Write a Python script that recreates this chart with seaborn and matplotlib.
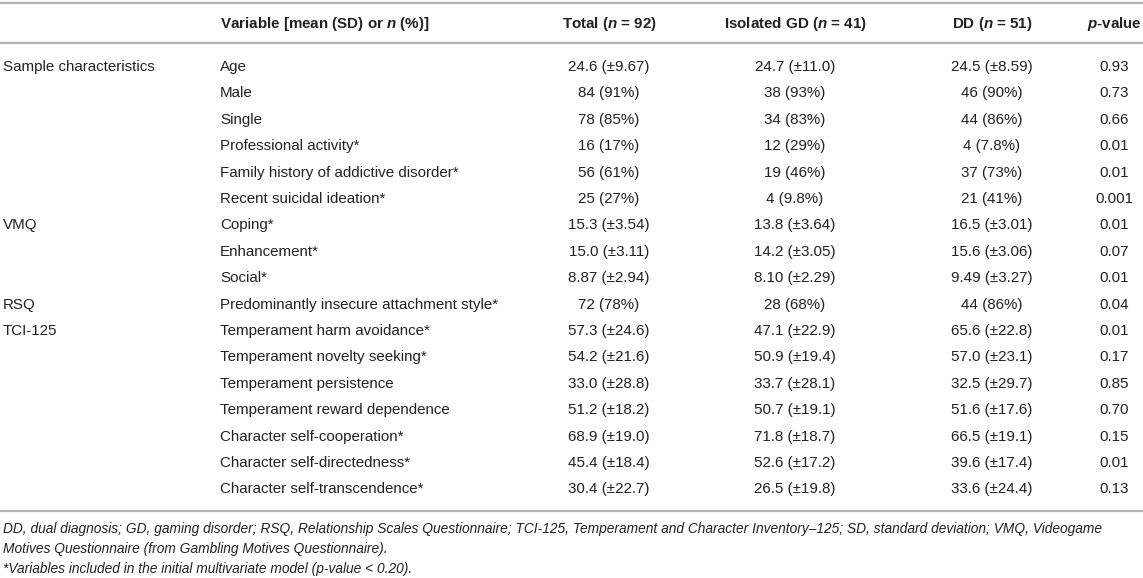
import matplotlib
matplotlib.use("Agg")
import matplotlib.pyplot as plt
import seaborn as sns

sns.set_theme(style="white")
plt.rcParams["font.family"] = ["Liberation Sans", "DejaVu Sans"]
plt.rcParams["mathtext.fontset"] = "custom"
plt.rcParams["mathtext.rm"] = "Liberation Sans:bold"
plt.rcParams["mathtext.it"] = "Liberation Sans:bold:italic"
plt.rcParams["mathtext.bf"] = "Liberation Sans:bold"

# ---- data ----
headers = ["Variable [mean (SD) or $n$ (%)]", "Total ($n$ = 92)",
           "Isolated GD ($n$ = 41)", "DD ($n$ = 51)", "$p$-value"]
groups = ["Sample characteristics", "", "", "", "", "",
          "VMQ", "", "",
          "RSQ",
          "TCI-125", "", "", "", "", "", ""]
variables = ["Age", "Male", "Single", "Professional activity*",
             "Family history of addictive disorder*", "Recent suicidal ideation*",
             "Coping*", "Enhancement*", "Social*",
             "Predominantly insecure attachment style*",
             "Temperament harm avoidance*", "Temperament novelty seeking*",
             "Temperament persistence", "Temperament reward dependence",
             "Character self-cooperation*", "Character self-directedness*",
             "Character self-transcendence*"]
total = ["24.6 (±9.67)", "84 (91%)", "78 (85%)", "16 (17%)", "56 (61%)", "25 (27%)",
         "15.3 (±3.54)", "15.0 (±3.11)", "8.87 (±2.94)", "72 (78%)",
         "57.3 (±24.6)", "54.2 (±21.6)", "33.0 (±28.8)", "51.2 (±18.2)",
         "68.9 (±19.0)", "45.4 (±18.4)", "30.4 (±22.7)"]
isolated_gd = ["24.7 (±11.0)", "38 (93%)", "34 (83%)", "12 (29%)", "19 (46%)", "4 (9.8%)",
               "13.8 (±3.64)", "14.2 (±3.05)", "8.10 (±2.29)", "28 (68%)",
               "47.1 (±22.9)", "50.9 (±19.4)", "33.7 (±28.1)", "50.7 (±19.1)",
               "71.8 (±18.7)", "52.6 (±17.2)", "26.5 (±19.8)"]
dd = ["24.5 (±8.59)", "46 (90%)", "44 (86%)", "4 (7.8%)", "37 (73%)", "21 (41%)",
      "16.5 (±3.01)", "15.6 (±3.06)", "9.49 (±3.27)", "44 (86%)",
      "65.6 (±22.8)", "57.0 (±23.1)", "32.5 (±29.7)", "51.6 (±17.6)",
      "66.5 (±19.1)", "39.6 (±17.4)", "33.6 (±24.4)"]
p_values = ["0.93", "0.73", "0.66", "0.01", "0.01", "0.001",
            "0.01", "0.07", "0.01", "0.04",
            "0.01", "0.17", "0.85", "0.70", "0.15", "0.01", "0.13"]
footnotes = [
    "DD, dual diagnosis; GD, gaming disorder; RSQ, Relationship Scales Questionnaire; TCI-125, Temperament and Character Inventory\u2013125; SD, standard deviation; VMQ, Videogame",
    "Motives Questionnaire (from Gambling Motives Questionnaire).",
    "*Variables included in the initial multivariate model (p-value < 0.20).",
]

# ---- layout ----
W, H = 1143, 578
fig = plt.figure(figsize=(W / 100, H / 100), dpi=100)
ax = fig.add_axes([0, 0, 1, 1])
ax.set_xlim(0, W)
ax.set_ylim(H, 0)
ax.axis("off")

txt = "#222222"
line_c = "#b4b4b4"
fs = 10.9

col_x = [220, 609, 795, 992, 1114]
col_ha = ["left", "center", "center", "center", "center"]

# rules
for y in (3, 43):
    ax.axhline(y, color=line_c, lw=1.6)

# header
for x, ha, h in zip(col_x, col_ha, headers):
    ax.text(x, 24, h, ha=ha, va="center", fontsize=fs, fontweight="bold", color=txt)

row0, step = 67, 26.4
for i in range(len(variables)):
    y = row0 + i * step
    ax.text(3, y, groups[i], ha="left", va="center", fontsize=fs, color=txt)
    for x, ha, col in zip(col_x, col_ha, [variables, total, isolated_gd, dd, p_values]):
        ax.text(x, y, col[i], ha=ha, va="center", fontsize=fs, color=txt)

y_bottom = row0 + (len(variables) - 1) * step + 22
ax.axhline(y_bottom, color=line_c, lw=1.6)

for j, t in enumerate(footnotes):
    ax.text(3, y_bottom + 18 + j * 19.6, t, ha="left", va="center", fontsize=9.9,
            style="italic", color=txt)

fig.savefig("out.png", dpi=100)
